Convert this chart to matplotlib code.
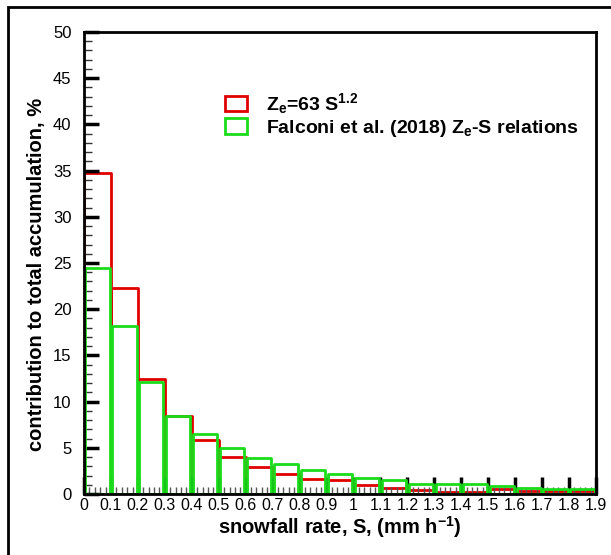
import matplotlib
matplotlib.use("Agg")
import matplotlib.pyplot as plt
from matplotlib.patches import Rectangle
from matplotlib.ticker import MultipleLocator
import numpy as np

# Data
bin_left = [0.0, 0.1, 0.2, 0.3, 0.4, 0.5, 0.6, 0.7, 0.8, 0.9,
            1.0, 1.1, 1.2, 1.3, 1.4, 1.5, 1.6, 1.7, 1.8]
red_vals = [34.7, 22.3, 12.5, 8.4, 5.85, 4.0, 2.9, 2.18, 1.66, 1.52,
            0.92, 0.65, 0.4, 0.2, 0.2, 0.5, 0.3, 0.3, 0.3]
green_vals = [24.5, 18.2, 12.1, 8.4, 6.45, 5.0, 3.95, 3.3, 2.58, 2.15,
              1.68, 1.52, 1.12, 1.12, 1.12, 0.87, 0.61, 0.55, 0.5]
xtick_vals = [0, 0.1, 0.2, 0.3, 0.4, 0.5, 0.6, 0.7, 0.8, 0.9, 1.0,
              1.1, 1.2, 1.3, 1.4, 1.5, 1.6, 1.7, 1.8, 1.9]
xtick_labels = ["0", "0.1", "0.2", "0.3", "0.4", "0.5", "0.6", "0.7", "0.8", "0.9", "1",
                "1.1", "1.2", "1.3", "1.4", "1.5", "1.6", "1.7", "1.8", "1.9"]
ytick_vals = [0, 5, 10, 15, 20, 25, 30, 35, 40, 45, 50]
label_red = r"Z$_\mathregular{e}$=63 S$^\mathregular{1.2}$"
label_green = r"Falconi et al. (2018) Z$_\mathregular{e}$-S relations"

plt.rcParams['font.family'] = ['Liberation Sans', 'DejaVu Sans']
plt.rcParams['mathtext.fontset'] = 'custom'
plt.rcParams['mathtext.rm'] = 'Liberation Sans:bold'
plt.rcParams['mathtext.it'] = 'Liberation Sans:bold'
plt.rcParams['mathtext.bf'] = 'Liberation Sans:bold'

fig = plt.figure(figsize=(6.11, 5.55), dpi=100)
ax = fig.add_axes([84/611, 61/555, 512/611, 462/555])

red = '#e00000'
green = '#1adc1a'
ax.bar(bin_left, red_vals, width=0.1, align='edge', fill=False,
       edgecolor=red, linewidth=2, joinstyle='round', zorder=2, label=label_red)
ax.bar(np.array(bin_left) + 0.005, green_vals, width=0.09, align='edge', fill=False,
       edgecolor=green, linewidth=2, joinstyle='round', zorder=3, label=label_green)

ax.set_xlim(0, 1.9)
ax.set_ylim(0, 50)
ax.set_xticks(xtick_vals)
ax.set_xticklabels(xtick_labels)
ax.set_yticks(ytick_vals)
ax.xaxis.set_minor_locator(MultipleLocator(0.02))
ax.yaxis.set_minor_locator(MultipleLocator(1))
ax.tick_params(axis='x', which='major', direction='in', length=12, width=2.5,
               labelsize=11.5, pad=3)
ax.tick_params(axis='x', which='minor', direction='in', length=5, width=1, color='#555555')
ax.tick_params(axis='y', which='major', direction='in', length=11, width=2.5,
               labelsize=12, pad=9)
ax.tick_params(axis='y', which='minor', direction='in', length=6, width=1, color='#333333')
ax.set_axisbelow(False)
for sp in ax.spines.values():
    sp.set_linewidth(2)
    sp.set_zorder(5)

ax.set_xlabel(r"snowfall rate, S, (mm h$^\mathregular{-1}$)", fontsize=14.5,
              fontweight='bold', labelpad=1)
ax.set_ylabel("contribution to total accumulation, %", fontsize=14.5,
              fontweight='bold')
ax.yaxis.set_label_coords(-0.075, 0.475)

leg = ax.legend(loc='upper left', bbox_to_anchor=(0.275, 0.872), frameon=False,
                prop={'weight': 'bold', 'size': 14},
                handlelength=1.15, handleheight=0.85, handletextpad=0.95,
                labelspacing=0.1, borderpad=0, borderaxespad=0)

fig.add_artist(Rectangle((8/611, -1), 2, 1 + (555 - 7)/555, transform=fig.transFigure,
                         fill=False, edgecolor='black', linewidth=2))

fig.savefig("out.png", dpi=100)
